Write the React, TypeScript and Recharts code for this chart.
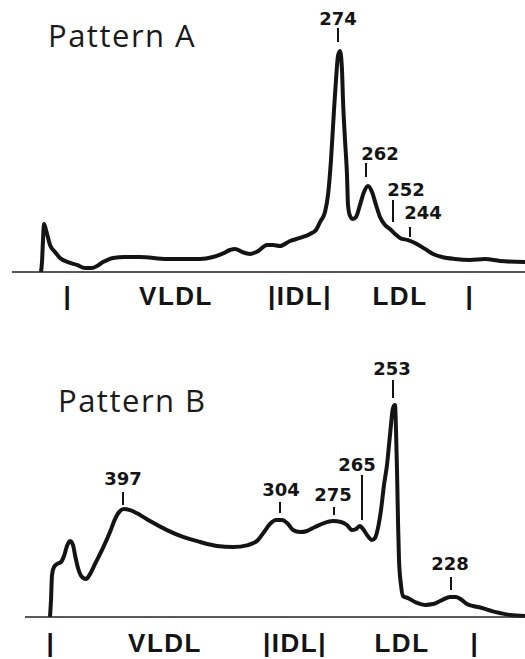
import React from 'react';
import { LineChart, Line, XAxis, YAxis, ReferenceLine, ReferenceDot } from 'recharts';

// Densitometric scans of the two gradient gel patterns.
// distance = migration distance (px of the original scan), density = absorbance (arbitrary units)
const distanceA = [41, 42, 43, 44, 46, 50, 55, 60, 68, 77, 85, 92, 97, 103, 113, 125, 140, 167, 200, 213, 222, 230, 235, 242, 250, 258, 267, 273, 280, 290, 300, 310, 316, 320, 325, 328, 331, 334, 336, 338, 340, 342, 343, 345, 347, 348, 350, 353, 356, 360, 364, 368, 372, 376, 380, 385, 390, 395, 400, 408, 415, 425, 433, 442, 455, 470, 485, 500, 525];
const densityA = [0, 4.5, 14.5, 21.8, 19.1, 12.3, 9.1, 6.4, 4.5, 3.2, 1.8, 1.8, 2.7, 4.5, 6.4, 6.8, 6.8, 5.9, 5.9, 6.8, 8.2, 10.0, 10.5, 9.1, 8.2, 9.5, 12.3, 12.3, 11.8, 14.1, 15.5, 17.3, 19.1, 22.7, 27.3, 35.0, 50.9, 73.6, 87.3, 98.2, 100.5, 91.8, 78.2, 60.0, 44.1, 30.5, 25.5, 24.1, 25.0, 30.5, 36.4, 39.1, 36.4, 30.5, 25.0, 21.4, 19.5, 17.3, 15.5, 14.5, 13.2, 10.5, 8.2, 6.8, 5.9, 5.5, 5.9, 5.0, 4.5];

const distanceB = [50, 51, 52, 54, 57, 61, 64, 67, 70, 73, 75, 78, 82, 86, 90, 95, 103, 110, 115, 120, 124, 130, 140, 150, 167, 183, 200, 217, 233, 248, 258, 264, 270, 276, 282, 288, 293, 300, 307, 315, 324, 333, 341, 347, 352, 356, 360, 363, 367, 372, 375, 378, 381, 384, 387, 390, 393, 395, 396, 397, 398, 399, 401, 403, 408, 417, 425, 433, 442, 450, 456, 462, 467, 473, 482, 492, 500, 510, 525];
const densityB = [0, 7.7, 19.1, 22.7, 24.1, 25.0, 27.7, 32.3, 34.5, 32.7, 28.2, 22.3, 18.2, 17.3, 19.5, 24.1, 31.4, 38.6, 44.5, 48.2, 49.1, 48.6, 46.4, 43.6, 39.5, 36.4, 34.1, 32.3, 31.8, 32.7, 35.0, 38.6, 42.3, 44.1, 44.1, 42.3, 39.5, 38.6, 39.1, 40.9, 42.7, 43.6, 43.2, 41.8, 39.5, 40.0, 41.4, 40.0, 37.3, 35.0, 35.9, 40.5, 48.6, 60.0, 69.1, 82.7, 95.0, 96.4, 85.0, 66.8, 44.1, 25.9, 14.5, 9.5, 8.6, 6.4, 5.5, 5.9, 7.7, 9.1, 9.1, 7.7, 5.9, 5.0, 4.1, 2.7, 1.8, 0.9, 0.5];

// fraction markers under each scan
const regionLabels = ['|', 'VLDL', '|IDL|', 'LDL', '|'];
const regionPosA = [68, 176, 300, 400, 470];
const regionPosB = [51, 165, 295, 402, 475];

// peak particle diameters (Å): tick from/to in density units, label centre
const peaksA = [
  { label: '274', x: 338, from: 104.5, to: 110.9, lx: 338, ly: 115.2 },
  { label: '262', x: 366, from: 43.2, to: 49.5, lx: 380, ly: 53.9 },
  { label: '252', x: 393, from: 22.7, to: 32.7, lx: 406, ly: 37.5 },
  { label: '244', x: 410, from: 15.9, to: 20.5, lx: 423, ly: 27.0 },
];
const peaksB = [
  { label: '397', x: 123, from: 50.9, to: 56.8, lx: 123, ly: 63.0 },
  { label: '304', x: 280, from: 47.3, to: 52.3, lx: 281, ly: 58.0 },
  { label: '275', x: 334, from: 46.4, to: 50.0, lx: 333, ly: 55.5 },
  { label: '265', x: 362, from: 44.1, to: 64.5, lx: 357, ly: 69.1 },
  { label: '253', x: 393, from: 99.5, to: 107.7, lx: 392, ly: 113.0 },
  { label: '228', x: 451, from: 12.3, to: 18.2, lx: 450, ly: 24.3 },
];

const dataA = distanceA.map((x, i) => ({ x, y: densityA[i] }));
const dataB = distanceB.map((x, i) => ({ x, y: densityB[i] }));

const INK = '#141414';

function Scan({ data, domain, regionPos, peaks, margin, height, labelDy }: any) {
  const renderTick = (props: any) => {
    const idx = regionPos.indexOf(props.payload.value);
    return (
      <text
        x={props.x}
        y={props.y + labelDy}
        textAnchor="middle"
        fill={INK}
        fontFamily="Liberation Sans, Arial, sans-serif"
        fontWeight="bold"
        fontSize={26}
        letterSpacing={1.5}
      >
        {regionLabels[idx]}
      </text>
    );
  };

  return (
    <LineChart width={525} height={height} data={data} margin={margin}>
      <XAxis
        type="number"
        dataKey="x"
        domain={domain}
        ticks={regionPos}
        interval={0}
        allowDataOverflow
        tickSize={0}
        tickMargin={0}
        tickLine={false}
        height={40}
        axisLine={{ stroke: '#222', strokeWidth: 1.5 }}
        tick={renderTick}
      />
      <YAxis type="number" hide domain={[0, 120]} />
      <Line
        type="monotone"
        dataKey="y"
        stroke={INK}
        strokeWidth={4}
        strokeLinejoin="round"
        dot={false}
        activeDot={false}
        isAnimationActive={false}
      />
      {peaks.map((p: any) => (
        <ReferenceLine
          key={'t' + p.label}
          segment={[{ x: p.x, y: p.from }, { x: p.x, y: p.to }]}
          stroke={INK}
          strokeWidth={2}
        />
      ))}
      {peaks.map((p: any) => (
        <ReferenceDot
          key={'l' + p.label}
          x={p.lx}
          y={p.ly}
          r={0}
          fill="none"
          stroke="none"
          label={{
            value: p.label,
            position: 'center',
            fill: INK,
            fontSize: 18,
            fontWeight: 'bold',
            fontFamily: 'DejaVu Sans, sans-serif',
          }}
        />
      ))}
    </LineChart>
  );
}

export default function App() {
  return (
    <div style={{ position: 'relative', width: 525, height: 659, background: '#fff' }}>
      <style>{'body{margin:0}'}</style>
      <Scan
        data={dataA}
        domain={[12, 525]}
        regionPos={regionPosA}
        peaks={peaksA}
        margin={{ top: 8, right: 0, bottom: 18, left: 12 }}
        height={330}
        labelDy={33}
      />
      <Scan
        data={dataB}
        domain={[25, 525]}
        regionPos={regionPosB}
        peaks={peaksB}
        margin={{ top: 23, right: 0, bottom: 2, left: 25 }}
        height={329}
        labelDy={35}
      />
      <svg
        width={525}
        height={659}
        style={{ position: 'absolute', left: 0, top: 0, pointerEvents: 'none' }}
      >
        <text x={48} y={47} fontFamily="Open Sans, sans-serif" fontSize={31} letterSpacing={1.5} fill="#1a1a1a">
          Pattern A
        </text>
        <text x={58} y={412} fontFamily="Open Sans, sans-serif" fontSize={31} letterSpacing={1.5} fill="#1a1a1a">
          Pattern B
        </text>
      </svg>
    </div>
  );
}
